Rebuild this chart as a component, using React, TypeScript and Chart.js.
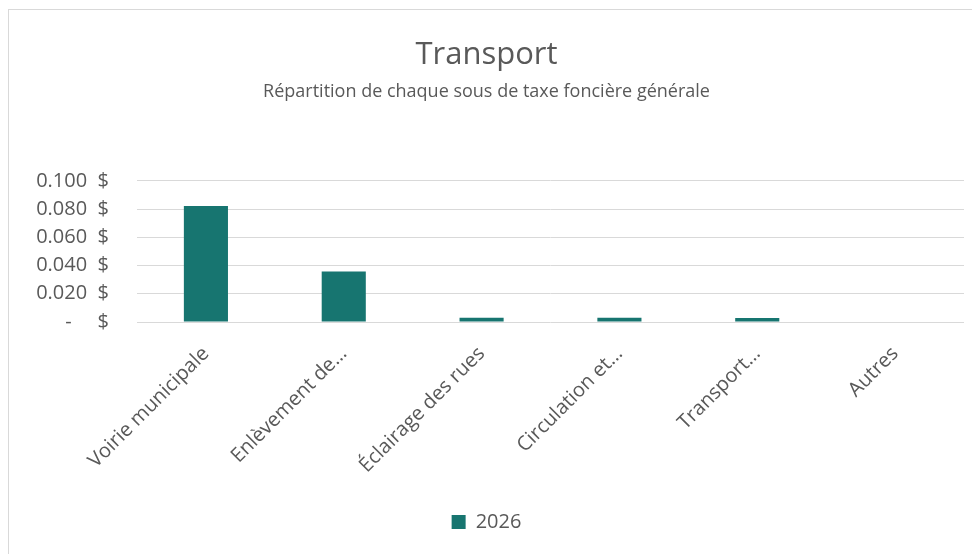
import React, { useEffect, useRef } from "react";
import { Chart, registerables } from "chart.js";

Chart.register(...registerables);

const categories = [
  "Voirie municipale",
  "Enlèvement de…",
  "Éclairage des rues",
  "Circulation et…",
  "Transport…",
  "Autres",
];
const values2026 = [0.0822, 0.0357, 0.003, 0.003, 0.0028, 0];
const seriesLabel = "2026";
const titleText = "Transport";
const subtitleText = "Répartition de chaque sous de taxe foncière générale";

const TEXT = "#595959";
const BAR = "#177570";
const GRID = "#d9d9d9";
const FONT = "'Open Sans', sans-serif";

export default function App() {
  const ref = useRef<HTMLCanvasElement | null>(null);

  useEffect(() => {
    document.body.style.overflow = "hidden";
    const canvas = ref.current;
    if (!canvas) return;
    const chart = new Chart(canvas, {
      type: "bar",
      data: {
        labels: categories,
        datasets: [
          {
            label: seriesLabel,
            data: values2026,
            backgroundColor: BAR,
            borderWidth: 0,
            barPercentage: 0.32,
            categoryPercentage: 1,
          },
        ],
      },
      options: {
        responsive: false,
        animation: false,
        layout: { padding: { left: 0, right: 27, top: 0, bottom: 12 } },
        plugins: {
          tooltip: { enabled: false },
          title: {
            display: true,
            text: titleText,
            color: TEXT,
            font: { family: FONT, size: 31, weight: "normal" },
            padding: { top: 27, bottom: 0 },
          },
          subtitle: {
            display: true,
            text: subtitleText,
            color: TEXT,
            font: { family: FONT, size: 18, weight: "normal" },
            padding: { top: 7, bottom: 78 },
          },
          legend: {
            position: "bottom",
            labels: {
              color: TEXT,
              font: { family: FONT, size: 20 },
              boxWidth: 14,
              boxHeight: 14,
              padding: 10,
            },
          },
        },
        scales: {
          x: {
            grid: { display: false, drawTicks: false },
            border: { display: false },
            ticks: {
              color: TEXT,
              font: { family: FONT, size: 20 },
              minRotation: 45,
              maxRotation: 45,
              autoSkip: false,
              padding: 20,
            },
            afterFit: (scale: any) => {
              scale.height = 180;
            },
          },
          y: {
            min: 0,
            max: 0.1,
            grid: { color: GRID, lineWidth: 1, drawTicks: false },
            border: { display: false },
            ticks: {
              stepSize: 0.02,
              color: TEXT,
              font: { family: FONT, size: 20 },
              padding: 28,
              callback: (v: any) => {
                const n = Number(v);
                if (Math.abs(n) < 1e-9) return "-     $";
                return n.toFixed(3) + "  $";
              },
            },
            afterFit: (scale: any) => {
              scale.width = 128;
            },
          },
        },
      },
    });
    return () => chart.destroy();
  }, []);

  return (
    <div
      style={{
        marginTop: 1,
        width: 971,
        height: 545,
        overflow: "hidden",
        borderTop: "1px solid #d9d9d9",
        borderLeft: "1px solid #d9d9d9",
        boxSizing: "border-box",
        background: "#fff",
      }}
    >
      <canvas ref={ref} width={982} height={544} style={{ display: "block" }} />
    </div>
  );
}
